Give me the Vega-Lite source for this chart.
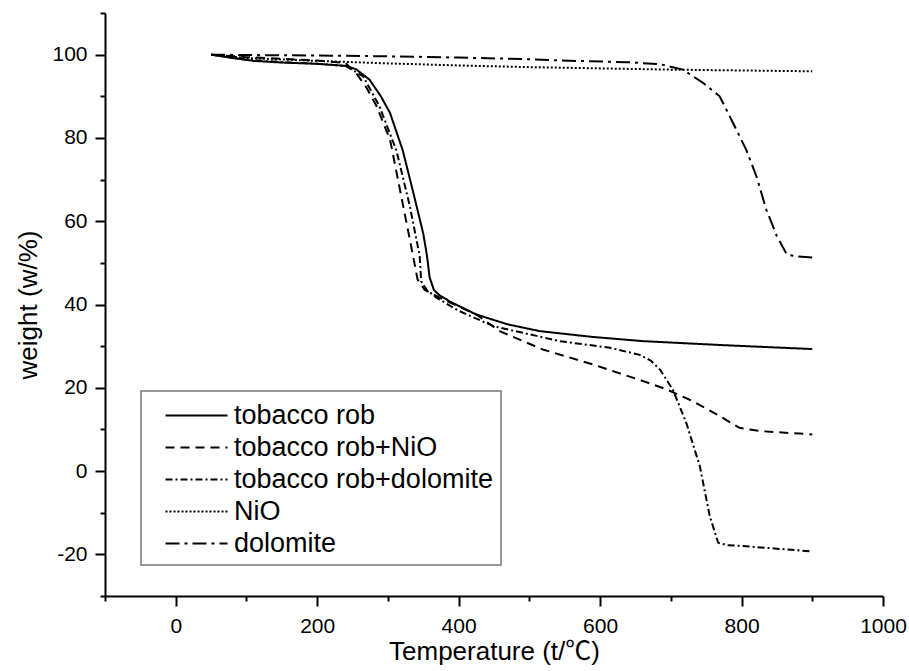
{
  "$schema": "https://vega.github.io/schema/vega-lite/v6.json",
  "width": 778,
  "height": 583,
  "autosize": {"type": "none"},
  "padding": {"left": 105, "top": 13, "right": 26, "bottom": 75},
  "background": "white",
  "config": {
    "view": {"stroke": null},
    "font": "Liberation Sans",
    "axis": {
      "grid": false,
      "domainColor": "black",
      "domainWidth": 2,
      "tickColor": "black",
      "tickWidth": 2,
      "labelColor": "black",
      "labelFont": "Liberation Sans",
      "labelFontSize": 21,
      "titleColor": "black",
      "titleFont": "Liberation Sans, Noto Sans CJK SC",
      "titleFontSize": 26,
      "titleFontWeight": "normal"
    }
  },
  "data": {
    "values": [
      {"series": "tobacco rob", "t": 50, "w": 100},
      {"series": "tobacco rob", "t": 80, "w": 99.2},
      {"series": "tobacco rob", "t": 110, "w": 98.5},
      {"series": "tobacco rob", "t": 150, "w": 98.1},
      {"series": "tobacco rob", "t": 200, "w": 97.8},
      {"series": "tobacco rob", "t": 240, "w": 97.3},
      {"series": "tobacco rob", "t": 255, "w": 96.5},
      {"series": "tobacco rob", "t": 274, "w": 94},
      {"series": "tobacco rob", "t": 290, "w": 90},
      {"series": "tobacco rob", "t": 303, "w": 86},
      {"series": "tobacco rob", "t": 321, "w": 77},
      {"series": "tobacco rob", "t": 335, "w": 67.5},
      {"series": "tobacco rob", "t": 350, "w": 57},
      {"series": "tobacco rob", "t": 355, "w": 52},
      {"series": "tobacco rob", "t": 359, "w": 46.5},
      {"series": "tobacco rob", "t": 365, "w": 43.5},
      {"series": "tobacco rob", "t": 373, "w": 42.2},
      {"series": "tobacco rob", "t": 390, "w": 40.5},
      {"series": "tobacco rob", "t": 425, "w": 37.6},
      {"series": "tobacco rob", "t": 470, "w": 35.2},
      {"series": "tobacco rob", "t": 515, "w": 33.6},
      {"series": "tobacco rob", "t": 590, "w": 32.2},
      {"series": "tobacco rob", "t": 661, "w": 31.2},
      {"series": "tobacco rob", "t": 779, "w": 30.2},
      {"series": "tobacco rob", "t": 900, "w": 29.3},

      {"series": "tobacco rob+NiO", "t": 50, "w": 100},
      {"series": "tobacco rob+NiO", "t": 100, "w": 99.4},
      {"series": "tobacco rob+NiO", "t": 150, "w": 99},
      {"series": "tobacco rob+NiO", "t": 200, "w": 98.6},
      {"series": "tobacco rob+NiO", "t": 240, "w": 98},
      {"series": "tobacco rob+NiO", "t": 255, "w": 95.6},
      {"series": "tobacco rob+NiO", "t": 270, "w": 92},
      {"series": "tobacco rob+NiO", "t": 284, "w": 87.6},
      {"series": "tobacco rob+NiO", "t": 303, "w": 79.6},
      {"series": "tobacco rob+NiO", "t": 317, "w": 67.6},
      {"series": "tobacco rob+NiO", "t": 331, "w": 55.6},
      {"series": "tobacco rob+NiO", "t": 342, "w": 46},
      {"series": "tobacco rob+NiO", "t": 352, "w": 43.5},
      {"series": "tobacco rob+NiO", "t": 378, "w": 41.2},
      {"series": "tobacco rob+NiO", "t": 425, "w": 37.6},
      {"series": "tobacco rob+NiO", "t": 458, "w": 33.6},
      {"series": "tobacco rob+NiO", "t": 519, "w": 29.2},
      {"series": "tobacco rob+NiO", "t": 590, "w": 25.6},
      {"series": "tobacco rob+NiO", "t": 661, "w": 21.6},
      {"series": "tobacco rob+NiO", "t": 694, "w": 19.6},
      {"series": "tobacco rob+NiO", "t": 731, "w": 16.8},
      {"series": "tobacco rob+NiO", "t": 769, "w": 13.2},
      {"series": "tobacco rob+NiO", "t": 797, "w": 10.4},
      {"series": "tobacco rob+NiO", "t": 826, "w": 9.6},
      {"series": "tobacco rob+NiO", "t": 900, "w": 8.8},

      {"series": "tobacco rob+dolomite", "t": 50, "w": 100},
      {"series": "tobacco rob+dolomite", "t": 100, "w": 98.8},
      {"series": "tobacco rob+dolomite", "t": 150, "w": 98.2},
      {"series": "tobacco rob+dolomite", "t": 200, "w": 97.8},
      {"series": "tobacco rob+dolomite", "t": 240, "w": 97.3},
      {"series": "tobacco rob+dolomite", "t": 265, "w": 94.8},
      {"series": "tobacco rob+dolomite", "t": 288, "w": 87.6},
      {"series": "tobacco rob+dolomite", "t": 312, "w": 77},
      {"series": "tobacco rob+dolomite", "t": 331, "w": 63.6},
      {"series": "tobacco rob+dolomite", "t": 345, "w": 51.6},
      {"series": "tobacco rob+dolomite", "t": 347, "w": 45.6},
      {"series": "tobacco rob+dolomite", "t": 355, "w": 43.5},
      {"series": "tobacco rob+dolomite", "t": 369, "w": 41.6},
      {"series": "tobacco rob+dolomite", "t": 400, "w": 38.5},
      {"series": "tobacco rob+dolomite", "t": 449, "w": 34.8},
      {"series": "tobacco rob+dolomite", "t": 543, "w": 31.2},
      {"series": "tobacco rob+dolomite", "t": 614, "w": 29.6},
      {"series": "tobacco rob+dolomite", "t": 656, "w": 27.9},
      {"series": "tobacco rob+dolomite", "t": 672, "w": 26.5},
      {"series": "tobacco rob+dolomite", "t": 685, "w": 24.3},
      {"series": "tobacco rob+dolomite", "t": 703, "w": 19.5},
      {"series": "tobacco rob+dolomite", "t": 722, "w": 11.5},
      {"series": "tobacco rob+dolomite", "t": 741, "w": 1.2},
      {"series": "tobacco rob+dolomite", "t": 755, "w": -10.8},
      {"series": "tobacco rob+dolomite", "t": 767, "w": -17.2},
      {"series": "tobacco rob+dolomite", "t": 780, "w": -17.8},
      {"series": "tobacco rob+dolomite", "t": 802, "w": -18},
      {"series": "tobacco rob+dolomite", "t": 900, "w": -19.3},

      {"series": "NiO", "t": 50, "w": 100},
      {"series": "NiO", "t": 100, "w": 99.2},
      {"series": "NiO", "t": 200, "w": 98.5},
      {"series": "NiO", "t": 300, "w": 97.9},
      {"series": "NiO", "t": 400, "w": 97.4},
      {"series": "NiO", "t": 500, "w": 97},
      {"series": "NiO", "t": 600, "w": 96.7},
      {"series": "NiO", "t": 700, "w": 96.4},
      {"series": "NiO", "t": 800, "w": 96.2},
      {"series": "NiO", "t": 900, "w": 96},

      {"series": "dolomite", "t": 50, "w": 100},
      {"series": "dolomite", "t": 100, "w": 99.9},
      {"series": "dolomite", "t": 200, "w": 99.8},
      {"series": "dolomite", "t": 300, "w": 99.6},
      {"series": "dolomite", "t": 400, "w": 99.3},
      {"series": "dolomite", "t": 500, "w": 98.9},
      {"series": "dolomite", "t": 543, "w": 98.6},
      {"series": "dolomite", "t": 637, "w": 98.2},
      {"series": "dolomite", "t": 685, "w": 97.7},
      {"series": "dolomite", "t": 717, "w": 96.4},
      {"series": "dolomite", "t": 745, "w": 93.3},
      {"series": "dolomite", "t": 769, "w": 90},
      {"series": "dolomite", "t": 788, "w": 83.6},
      {"series": "dolomite", "t": 807, "w": 77},
      {"series": "dolomite", "t": 821, "w": 70.8},
      {"series": "dolomite", "t": 835, "w": 62.8},
      {"series": "dolomite", "t": 850, "w": 56.4},
      {"series": "dolomite", "t": 864, "w": 52},
      {"series": "dolomite", "t": 880, "w": 51.5},
      {"series": "dolomite", "t": 900, "w": 51.3}
    ]
  },
  "mark": {"type": "line", "stroke": "black", "strokeWidth": 2, "clip": true},
  "encoding": {
    "x": {
      "field": "t",
      "type": "quantitative",
      "scale": {"domain": [-100, 1000], "nice": false, "zero": false},
      "axis": {
        "title": "Temperature (t/℃)",
        "values": [-100, 0, 100, 200, 300, 400, 500, 600, 700, 800, 900, 1000],
        "labelExpr": "datum.value % 200 === 0 ? '' + datum.value : ''",
        "tickSize": {"condition": {"test": "datum.value % 200 === 0", "value": 10}, "value": 5},
        "labelPadding": 9,
        "titlePadding": 2,
        "labelFlush": false,
        "labelOverlap": false
      }
    },
    "y": {
      "field": "w",
      "type": "quantitative",
      "scale": {"domain": [-30, 110], "nice": false, "zero": false},
      "axis": {
        "title": "weight (w/%)",
        "values": [-30, -20, -10, 0, 10, 20, 30, 40, 50, 60, 70, 80, 90, 100, 110],
        "labelExpr": "datum.value % 20 === 0 ? '' + datum.value : ''",
        "tickSize": {"condition": {"test": "datum.value % 20 === 0", "value": 10}, "value": 5},
        "labelPadding": 8,
        "titlePadding": 10,
        "labelFlush": false,
        "labelOverlap": false
      }
    },
    "strokeDash": {
      "field": "series",
      "type": "nominal",
      "scale": {
        "domain": ["tobacco rob", "tobacco rob+NiO", "tobacco rob+dolomite", "NiO", "dolomite"],
        "range": [[1, 0], [9, 6], [7, 3, 2, 3], [2, 2], [14, 5, 3, 5]]
      },
      "legend": {
        "title": null,
        "orient": "none",
        "legendX": 36,
        "legendY": 378,
        "strokeColor": "#777777",
        "fillColor": "white",
        "padding": 8,
        "symbolType": "M-2,0H2",
        "symbolSize": 961,
        "symbolStrokeWidth": 2,
        "symbolStrokeColor": "black",
        "symbolFillColor": "transparent",
        "symbolOffset": 31,
        "labelFont": "Liberation Sans",
        "labelFontSize": 27,
        "labelColor": "black",
        "labelOffset": 21,
        "labelLimit": 400,
        "rowPadding": 2,
        "encode": {"legend": {"update": {"strokeWidth": {"value": 1.5}}}}
      }
    }
  }
}
